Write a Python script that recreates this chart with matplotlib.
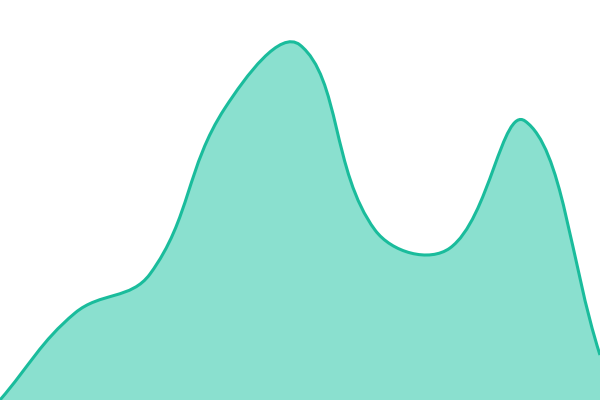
import matplotlib
matplotlib.use("Agg")
import matplotlib.pyplot as plt
import numpy as np
from matplotlib.path import Path
from matplotlib.patches import PathPatch

# values (evenly spaced categories)
xs = np.array([0, 1, 2, 3, 4, 5, 6, 7, 8])
vals = np.array([0, 87, 126, 292, 355, 170, 152, 279, 45])

line_color = "#1abc9c"
fill_color = "#8ae0cf"


def spline_path(px, py, t=0.4):
    # cubic bezier through the points, control points as in chart.js splineCurve
    n = len(px)
    verts = [(px[0], py[0])]
    codes = [Path.MOVETO]
    cp_prev = []
    cp_next = []
    for i in range(n):
        p0 = (px[max(i - 1, 0)], py[max(i - 1, 0)])
        p1 = (px[i], py[i])
        p2 = (px[min(i + 1, n - 1)], py[min(i + 1, n - 1)])
        d01 = np.hypot(p1[0] - p0[0], p1[1] - p0[1])
        d12 = np.hypot(p2[0] - p1[0], p2[1] - p1[1])
        s01 = d01 / (d01 + d12) if d01 + d12 else 0
        s12 = d12 / (d01 + d12) if d01 + d12 else 0
        fa, fb = t * s01, t * s12
        cp_prev.append((p1[0] - fa * (p2[0] - p0[0]), p1[1] - fa * (p2[1] - p0[1])))
        cp_next.append((p1[0] + fb * (p2[0] - p0[0]), p1[1] + fb * (p2[1] - p0[1])))
    for i in range(1, n):
        verts += [cp_next[i - 1], cp_prev[i], (px[i], py[i])]
        codes += [Path.CURVE4] * 3
    return verts, codes


fig = plt.figure(figsize=(6, 4), dpi=100)
ax = fig.add_axes([0, 0, 1, 1])
ax.set_xlim(0, 600)
ax.set_ylim(0, 400)
ax.axis("off")

# work in pixel units so the spline matches screen distances
px = xs * 75.0
py = vals.astype(float)
verts, codes = spline_path(px, py)

fill_verts = verts + [(px[-1], 0), (px[0], 0), verts[0]]
fill_codes = codes + [Path.LINETO, Path.LINETO, Path.CLOSEPOLY]
ax.add_patch(PathPatch(Path(fill_verts, fill_codes), facecolor=fill_color, edgecolor="none"))
ax.add_patch(PathPatch(Path(verts, codes), facecolor="none", edgecolor=line_color, lw=2.2))

fig.savefig("out.png", dpi=100)
